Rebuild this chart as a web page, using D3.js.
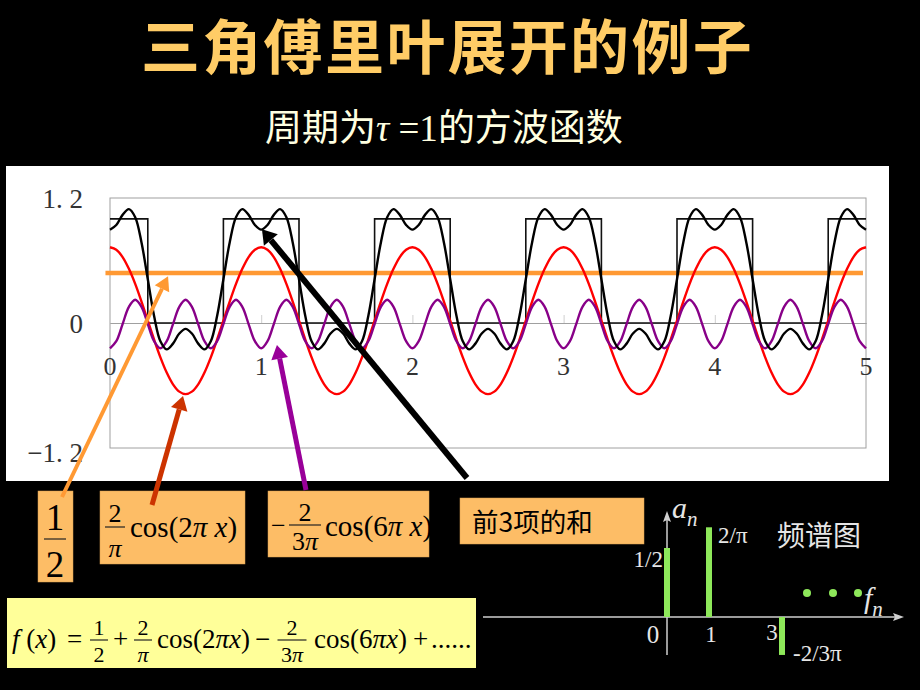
<!DOCTYPE html>
<html>
<head>
<meta charset="utf-8">
<script src="https://cdn.jsdelivr.net/npm/d3@7"></script>
<style>
  body { margin: 0; background: #000; }
  svg { display: block; }
</style>
</head>
<body>
<div id="slide"></div>
<script>
const samplesPerPeriod = 24;
const periods = 5;
const sumPeriod = [0.896, 0.941, 1.038, 1.093, 1.015, 0.773, 0.42, 0.067, -0.175, -0.253, -0.198, -0.101,
                   -0.056, -0.101, -0.198, -0.253, -0.175, 0.067, 0.42, 0.773, 1.015, 1.093, 1.038, 0.941];
const firstPeriod = [0.727, 0.703, 0.633, 0.520, 0.375, 0.205, 0.022, -0.160, -0.330, -0.476, -0.589, -0.659,
                     -0.683, -0.659, -0.589, -0.476, -0.330, -0.160, 0.022, 0.205, 0.375, 0.520, 0.633, 0.703];
const thirdPeriod = [-0.243, -0.175, -0.010, 0.155, 0.223, 0.155, -0.010, -0.175]; // repeats 3 times per period

const squareX = [0, 0.25, 0.75, 1.25, 1.75, 2.25, 2.75, 3.25, 3.75, 4.25, 4.75, 5];
const squareY = [1, 0, 1, 0, 1, 0, 1, 0, 1, 0, 1, 1];
const constLevel = 0.48;
const constX = [-0.03, 4.98];

const xTicks = [0, 1, 2, 3, 4, 5];
const yTicks = [1.2, 0, -1.2];
const yTickLabels = ["1. 2", "0", "\u22121. 2"];

// spectrum
const specFreq = [0, 1, 3];
const specAmp = [0.5, 0.65, -0.275];
const specLabels = ["1/2", "2/\u03c0", "-2/3\u03c0"];

const W = 920, H = 690;
const serif = "'Liberation Serif', 'DejaVu Serif', serif";
const cjk = "'Noto Sans CJK SC', sans-serif";

const svg = d3.select("#slide").append("svg")
    .attr("width", W)
    .attr("height", H);

svg.append("rect").attr("width", W).attr("height", H).attr("fill", "#000");

function txt(g, x, y, s, o = {}) {
    return g.append("text")
        .attr("x", x).attr("y", y)
        .attr("text-anchor", o.anchor || "start")
        .attr("font-family", o.family || serif)
        .attr("font-size", o.size || 24)
        .attr("font-style", o.italic ? "italic" : "normal")
        .attr("font-weight", o.bold ? "bold" : "normal")
        .attr("fill", o.fill || "#000")
        .text(s);
}

// titles
txt(svg, 141, 69, "三角傅里叶展开的例子", { family: cjk, size: 59, bold: true, fill: "#FFCC66" })
    .attr("letter-spacing", 2.3);
const sub = svg.append("text")
    .attr("x", 265).attr("y", 141)
    .attr("font-family", cjk)
    .attr("font-size", 37)
    .attr("fill", "#FFFFE0");
sub.append("tspan").text("周期为");
sub.append("tspan").attr("font-family", serif).attr("font-style", "italic").text("\u03c4");
sub.append("tspan").attr("font-family", serif).text(" =1");
sub.append("tspan").text("的方波函数");

// chart panel
svg.append("rect")
    .attr("x", 6).attr("y", 166)
    .attr("width", 883).attr("height", 315)
    .attr("fill", "#fff");

const x = d3.scaleLinear().domain([0, 5]).range([110, 866]);
const y = d3.scaleLinear().domain([-1.2, 1.2]).range([448, 198]);

const plot = svg.append("g");

plot.append("rect")
    .attr("x", x(0)).attr("y", y(1.2))
    .attr("width", x(5) - x(0)).attr("height", y(-1.2) - y(1.2))
    .attr("fill", "none")
    .attr("stroke", "#a0a0a0");

// zero axis with small upward ticks
const xAxis = plot.append("g")
    .attr("transform", `translate(0,${y(0)})`)
    .call(d3.axisTop(x).tickValues(xTicks).tickSize(8).tickFormat(""));
xAxis.select(".domain").attr("stroke", "#a0a0a0");
xAxis.selectAll(".tick line").attr("stroke", "#cfcfcf");

plot.selectAll(".xlab")
    .data(xTicks)
    .enter().append("text")
    .attr("x", d => x(d))
    .attr("y", y(0) + 52)
    .attr("text-anchor", "middle")
    .attr("font-family", serif)
    .attr("font-size", 26)
    .attr("fill", "#333")
    .text(d => d);

plot.selectAll(".ylab")
    .data(yTicks)
    .enter().append("text")
    .attr("x", 83)
    .attr("y", (d, i) => y(d) + (i === 2 ? 14 : 10))
    .attr("text-anchor", "end")
    .attr("font-family", serif)
    .attr("font-size", 27)
    .attr("fill", "#333")
    .text((d, i) => yTickLabels[i]);

const line = d3.line().x(d => x(d[0])).y(d => y(d[1]));
const smooth = d3.line().x(d => x(d[0])).y(d => y(d[1])).curve(d3.curveCatmullRom);

const nPts = samplesPerPeriod * periods;
const xs = d3.range(nPts + 1).map(k => k / samplesPerPeriod);
const sumData = xs.map((v, k) => [v, sumPeriod[k % sumPeriod.length]]);
const firstData = xs.map((v, k) => [v, firstPeriod[k % firstPeriod.length]]);
const thirdData = xs.map((v, k) => [v, thirdPeriod[k % thirdPeriod.length]]);
const squareData = squareX.map((v, i) => [v, squareY[i]]);

// constant term
plot.append("path")
    .datum(constX.map(v => [v, constLevel]))
    .attr("d", line)
    .attr("fill", "none")
    .attr("stroke", "#FF9933")
    .attr("stroke-width", 4.5);

plot.append("path")
    .datum(squareData)
    .attr("d", d3.line().x(d => x(d[0])).y(d => y(d[1])).curve(d3.curveStepAfter))
    .attr("fill", "none")
    .attr("stroke", "#111")
    .attr("stroke-width", 1.6);

plot.append("path")
    .datum(firstData)
    .attr("d", smooth)
    .attr("fill", "none")
    .attr("stroke", "#FF0000")
    .attr("stroke-width", 2.4);

plot.append("path")
    .datum(thirdData)
    .attr("d", smooth)
    .attr("fill", "none")
    .attr("stroke", "#880088")
    .attr("stroke-width", 2.4);

plot.append("path")
    .datum(sumData)
    .attr("d", smooth)
    .attr("fill", "none")
    .attr("stroke", "#000")
    .attr("stroke-width", 2.4);

// boxes
function box(x0, y0, w, h, fill) {
    svg.append("rect").attr("x", x0).attr("y", y0).attr("width", w).attr("height", h)
        .attr("fill", fill).attr("stroke", "#d9a050").attr("stroke-width", 0.5);
}
box(38, 491, 35, 91, "#FDBD66");
box(100, 491, 145, 73, "#FDBD66");
box(268, 491, 161, 66, "#FDBD66");
box(460, 498, 184, 46, "#FDBD66");
svg.append("rect").attr("x", 7).attr("y", 598).attr("width", 469).attr("height", 70).attr("fill", "#FFFF99");

function frac(cx, top, barY, bot, a, b, size, w) {
    txt(svg, cx, top, a, { anchor: "middle", size: size });
    svg.append("line").attr("x1", cx - w / 2).attr("x2", cx + w / 2)
        .attr("y1", barY).attr("y2", barY).attr("stroke", "#222").attr("stroke-width", 1.2);
    const t = txt(svg, cx, bot, "", { anchor: "middle", size: size });
    b.forEach(p => t.append("tspan").attr("font-style", p.i ? "italic" : "normal").text(p.s));
}

function mathText(x0, y0, parts, size) {
    const t = txt(svg, x0, y0, "", { size: size });
    parts.forEach(p => t.append("tspan").attr("font-style", p.i ? "italic" : "normal").text(p.s));
}

// 1/2
frac(55, 530, 539, 577, "1", [{ s: "2" }], 37, 22);
// 2/pi cos(2pi x)
frac(115, 522, 527, 557, "2", [{ s: "\u03c0", i: true }], 26, 20);
mathText(130, 537, [{ s: "cos(2" }, { s: "\u03c0 x", i: true }, { s: ")" }], 29);
// -2/3pi cos(6pi x)
txt(svg, 271, 534, "\u2212", { size: 26 });
frac(305, 521, 525, 550, "2", [{ s: "3" }, { s: "\u03c0", i: true }], 26, 32);
mathText(325, 536, [{ s: "cos(6" }, { s: "\u03c0 x", i: true }, { s: ")" }], 29);

txt(svg, 472, 532, "前3项的和", { family: cjk, size: 26.5 });

// full series formula
mathText(12, 648, [{ s: "f", i: true }, { s: " (" }, { s: "x", i: true }, { s: ")" }], 27);
txt(svg, 67, 648, "=", { size: 27 });
frac(99, 635, 640, 662, "1", [{ s: "2" }], 22, 18);
txt(svg, 113, 648, "+", { size: 27 });
frac(143, 635, 640, 662, "2", [{ s: "\u03c0", i: true }], 22, 18);
mathText(157, 648, [{ s: "cos(2" }, { s: "\u03c0x", i: true }, { s: ")" }], 27);
txt(svg, 255, 648, "\u2212", { size: 27 });
frac(292, 635, 640, 662, "2", [{ s: "3" }, { s: "\u03c0", i: true }], 22, 29);
mathText(314, 648, [{ s: "cos(6" }, { s: "\u03c0x", i: true }, { s: ")" }], 27);
txt(svg, 413, 648, "+", { size: 27 });
txt(svg, 431, 648, "......", { size: 27 });

// annotation arrows: tail in page pixels, head in chart units
const arrows = [
    { from: [62, 497], to: [0.384, 0.45], color: "#FF9933", w: 4 },
    { from: [152, 505], to: [0.483, -0.70], color: "#CC3300", w: 5 },
    { from: [306, 490], to: [1.104, -0.21], color: "#990099", w: 5 },
    { from: [467, 478], to: [1.005, 0.90], color: "#000", w: 6 }
];
arrows.forEach(a => {
    const hx = x(a.to[0]), hy = y(a.to[1]);
    const [tx, ty] = a.from;
    const ang = Math.atan2(hy - ty, hx - tx);
    const L = 14, hw = 6 + a.w / 2;
    const bx = hx - L * Math.cos(ang), by = hy - L * Math.sin(ang);
    svg.append("line")
        .attr("x1", tx).attr("y1", ty).attr("x2", bx).attr("y2", by)
        .attr("stroke", a.color).attr("stroke-width", a.w);
    const px = -Math.sin(ang), py = Math.cos(ang);
    svg.append("path")
        .attr("d", `M${hx},${hy}L${bx + px * hw},${by + py * hw}L${bx - px * hw},${by - py * hw}Z`)
        .attr("fill", a.color);
});

// spectrum
const sx = d3.scaleLinear().domain([0, 1, 3]).range([667, 709, 782]);
const sy = d3.scaleLinear().domain([0, 0.5]).range([617, 548]);
const axisCol = "#cfcfcf";
const spec = svg.append("g");

spec.append("line").attr("x1", 483).attr("x2", 898).attr("y1", sy(0)).attr("y2", sy(0))
    .attr("stroke", axisCol).attr("stroke-width", 1.5);
spec.append("path").attr("d", `M904,${sy(0)}L893,${sy(0) - 4}L895,${sy(0)}L893,${sy(0) + 4}Z`).attr("fill", axisCol);
spec.append("line").attr("x1", sx(0)).attr("x2", sx(0)).attr("y1", 655).attr("y2", 517)
    .attr("stroke", axisCol).attr("stroke-width", 1.5);
spec.append("path").attr("d", `M${sx(0)},511L${sx(0) - 4},522L${sx(0)},520L${sx(0) + 4},522Z`).attr("fill", axisCol);

spec.selectAll(".bar")
    .data(specFreq)
    .enter().append("rect")
    .attr("x", d => sx(d) - 3)
    .attr("width", 6)
    .attr("y", (d, i) => Math.min(sy(specAmp[i]), sy(0)))
    .attr("height", (d, i) => Math.abs(sy(specAmp[i]) - sy(0)))
    .attr("fill", "#8EE85A");

const specText = "#E6E6E6";
txt(spec, 663, sy(specAmp[0]) + 19, specLabels[0], { anchor: "end", size: 23, fill: specText });
txt(spec, 718, sy(specAmp[1]) + 16, specLabels[1], { size: 23, fill: specText });
txt(spec, 793, sy(specAmp[2]) + 6, specLabels[2], { size: 23, fill: specText });

txt(spec, 653, 643, "0", { anchor: "middle", size: 25, fill: specText });
txt(spec, 711, 642, "1", { anchor: "middle", size: 23, fill: specText });
txt(spec, 772, 640, "3", { anchor: "middle", size: 23, fill: specText });

const an = txt(spec, 672, 518, "", { size: 30, italic: true, fill: specText });
an.append("tspan").text("a");
an.append("tspan").attr("font-size", 21).attr("dy", 8).text("n");
const fn = txt(spec, 864, 608, "", { size: 30, italic: true, fill: specText });
fn.append("tspan").text("f");
fn.append("tspan").attr("font-size", 21).attr("dy", 8).text("n");

spec.selectAll(".dot")
    .data([807, 833, 858])
    .enter().append("circle")
    .attr("cx", d => d).attr("cy", 593).attr("r", 4)
    .attr("fill", "#8EE85A");

txt(spec, 777, 546, "频谱图", { family: cjk, size: 28, fill: specText });
</script>
</body>
</html>
